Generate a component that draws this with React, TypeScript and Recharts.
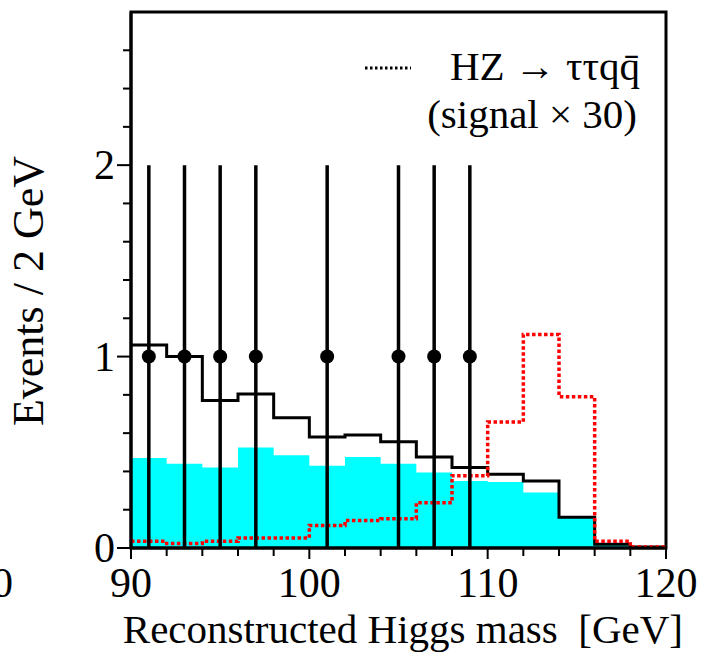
import React from 'react';
import { ComposedChart, Area, Line, Scatter, ErrorBar, XAxis, YAxis, ReferenceArea } from 'recharts';

// lower edges of the 2 GeV bins
const binEdges = [90, 92, 94, 96, 98, 100, 102, 104, 106, 108, 110, 112, 114, 116, 118];
const background = [0.47, 0.44, 0.42, 0.525, 0.485, 0.43, 0.475, 0.44, 0.395, 0.35, 0.345, 0.29, 0.16, 0.02, 0.005];
const totalExpected = [1.06, 1.0, 0.77, 0.805, 0.68, 0.58, 0.59, 0.555, 0.475, 0.42, 0.385, 0.35, 0.16, 0.02, 0.005];
const signalX30 = [0.035, 0.024, 0.035, 0.052, 0.052, 0.118, 0.144, 0.153, 0.236, 0.378, 0.658, 1.115, 0.79, 0.035, 0.005];
const upperEdge = 120;

const dataMass = [91, 93, 95, 97, 101, 105, 107, 109];
const dataEvents = [1, 1, 1, 1, 1, 1, 1, 1];
const dataErr = [1, 1, 1, 1, 1, 1, 1, 1];

const xTicks = [90, 92, 94, 96, 98, 100, 102, 104, 106, 108, 110, 112, 114, 116, 118, 120];
const yTicks = [0, 0.2, 0.4, 0.6, 0.8, 1, 1.2, 1.4, 1.6, 1.8, 2, 2.2, 2.4, 2.6];
const yMax = 2.8;

const FONT = "'Times New Roman', 'Liberation Serif', Times, serif";

const last = binEdges.length - 1;
const histRows = [
  ...binEdges.map((x, i) => ({ x, bkg: background[i], tot: totalExpected[i], sig: signalX30[i] })),
  { x: upperEdge, bkg: background[last], tot: totalExpected[last], sig: signalX30[last] },
];
const points = dataMass.map((x, i) => ({ x, y: dataEvents[i], err: dataErr[i] }));

const XTick = (props: any) => {
  const { x, y, payload } = props;
  const major = payload.value % 10 === 0;
  return (
    <g>
      <line x1={x} x2={x} y1={y} y2={y + (major ? 11 : 8)} stroke="#000" strokeWidth={2} />
      {major && (
        <text x={x} y={y + 49} textAnchor="middle" fontSize={42} fontFamily={FONT} fill="#000">
          {payload.value}
        </text>
      )}
    </g>
  );
};

const YTick = (props: any) => {
  const { x, y, payload } = props;
  const v = payload.value;
  const major = Math.abs(v - Math.round(v)) < 1e-6;
  return (
    <g>
      <line x1={x - (major ? 14 : 8)} x2={x} y1={y} y2={y} stroke="#000" strokeWidth={2} />
      {major && (
        <text x={x - 16} y={y + 14} textAnchor="end" fontSize={42} fontFamily={FONT} fill="#000">
          {Math.round(v)}
        </text>
      )}
    </g>
  );
};

const Dot = (props: any) => <circle cx={props.cx} cy={props.cy} r={7} fill="#000" />;

export default function App() {
  return (
    <div style={{ position: 'fixed', left: 0, top: 0, width: 715, height: 657, background: '#fff', fontFamily: FONT }}>
      <ComposedChart width={715} height={657} margin={{ top: 12, right: 49, bottom: 0, left: 0 }}>
        <XAxis
          dataKey="x"
          type="number"
          domain={[90, 120]}
          ticks={xTicks}
          interval={0}
          height={109}
          tickSize={0}
          tickMargin={0}
          tick={<XTick />}
          axisLine={{ stroke: '#000', strokeWidth: 3 }}
          allowDataOverflow
        />
        <YAxis
          type="number"
          domain={[0, yMax]}
          ticks={yTicks}
          interval={0}
          width={131}
          tickSize={0}
          tickMargin={0}
          tick={<YTick />}
          axisLine={{ stroke: '#000', strokeWidth: 3 }}
          allowDataOverflow
        />
        <Area
          data={histRows}
          dataKey="bkg"
          type="stepAfter"
          fill="#00ffff"
          fillOpacity={1}
          stroke="none"
          isAnimationActive={false}
        />
        <Line
          data={histRows}
          dataKey="tot"
          type="stepAfter"
          stroke="#000"
          strokeWidth={3}
          dot={false}
          isAnimationActive={false}
        />
        <Line
          data={histRows}
          dataKey="sig"
          type="stepAfter"
          stroke="#ff0000"
          strokeWidth={3.5}
          strokeDasharray="3.5 2.5"
          dot={false}
          isAnimationActive={false}
        />
        <Scatter data={points} dataKey="y" shape={<Dot />} isAnimationActive={false}>
          <ErrorBar dataKey="err" direction="y" width={0} stroke="#000" strokeWidth={3.5} />
        </Scatter>
        <ReferenceArea x1={90} x2={120} y1={0} y2={yMax} fill="none" stroke="#000" strokeWidth={3} ifOverflow="visible" />
      </ComposedChart>
      <svg
        width={715}
        height={657}
        style={{ position: 'absolute', left: 0, top: 0, pointerEvents: 'none' }}
        fontFamily={FONT}
      >
        <text x={-8} y={597} fontSize={42}>0</text>
        <text x={43} y={291} fontSize={44} textAnchor="middle" transform="rotate(-90 43 291)">
          Events / 2 GeV
        </text>
        <text x={683} y={643} fontSize={41} textAnchor="end" style={{ whiteSpace: 'pre' }}>
          {'Reconstructed Higgs mass  [GeV]'}
        </text>
        <line x1={365} x2={411} y1={68} y2={68} stroke="#000" strokeWidth={3} strokeDasharray="2.5 2.5" />
        <text x={640} y={80} fontSize={41} textAnchor="end">HZ → ττqq̄</text>
        <text x={637} y={128} fontSize={41} textAnchor="end">(signal × 30)</text>
      </svg>
    </div>
  );
}
